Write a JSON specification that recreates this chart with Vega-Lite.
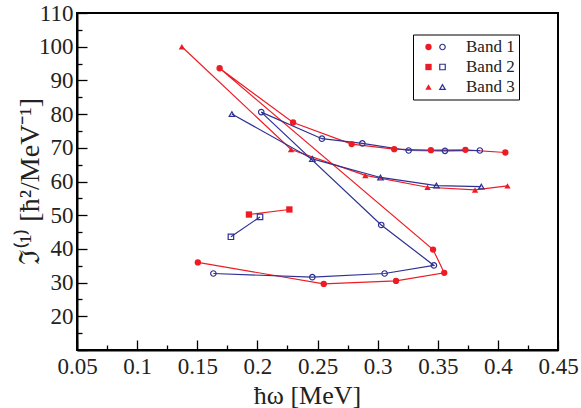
{
  "$schema": "https://vega.github.io/schema/vega-lite/v6.json",
  "width": 481,
  "height": 337,
  "autosize": {"type": "none"},
  "padding": {"left": 77, "top": 13, "right": 23, "bottom": 58},
  "background": "white",
  "config": {
    "view": {"stroke": "black", "strokeWidth": 2},
    "axis": {
      "grid": false,
      "domainColor": "black",
      "domainWidth": 2,
      "tickColor": "black",
      "tickWidth": 1.3,
      "labelFont": "Liberation Serif",
      "labelFontSize": 23,
      "labelColor": "#222",
      "titleFont": "Liberation Serif",
      "titleFontWeight": "normal",
      "titleColor": "#222"
    }
  },
  "data": {
    "values": [
      {"band": "Band 1", "type": "filled", "i": 1, "x": 0.1505, "y": 36.0},
      {"band": "Band 1", "type": "filled", "i": 2, "x": 0.2552, "y": 29.6},
      {"band": "Band 1", "type": "filled", "i": 3, "x": 0.3153, "y": 30.5},
      {"band": "Band 1", "type": "filled", "i": 4, "x": 0.3554, "y": 32.9},
      {"band": "Band 1", "type": "filled", "i": 5, "x": 0.3461, "y": 39.8},
      {"band": "Band 1", "type": "filled", "i": 6, "x": 0.1686, "y": 93.6},
      {"band": "Band 1", "type": "filled", "i": 7, "x": 0.2297, "y": 77.5},
      {"band": "Band 1", "type": "filled", "i": 8, "x": 0.2784, "y": 71.1},
      {"band": "Band 1", "type": "filled", "i": 9, "x": 0.3138, "y": 69.6},
      {"band": "Band 1", "type": "filled", "i": 10, "x": 0.3443, "y": 69.3},
      {"band": "Band 1", "type": "filled", "i": 11, "x": 0.3730, "y": 69.4},
      {"band": "Band 1", "type": "filled", "i": 12, "x": 0.4062, "y": 68.6},
      {"band": "Band 1", "type": "open", "i": 1, "x": 0.1634, "y": 32.7},
      {"band": "Band 1", "type": "open", "i": 2, "x": 0.2457, "y": 31.6},
      {"band": "Band 1", "type": "open", "i": 3, "x": 0.3058, "y": 32.7},
      {"band": "Band 1", "type": "open", "i": 4, "x": 0.3468, "y": 35.1},
      {"band": "Band 1", "type": "open", "i": 5, "x": 0.3030, "y": 47.1},
      {"band": "Band 1", "type": "open", "i": 6, "x": 0.2032, "y": 80.6},
      {"band": "Band 1", "type": "open", "i": 7, "x": 0.2537, "y": 72.7},
      {"band": "Band 1", "type": "open", "i": 8, "x": 0.2873, "y": 71.3},
      {"band": "Band 1", "type": "open", "i": 9, "x": 0.3258, "y": 69.2},
      {"band": "Band 1", "type": "open", "i": 10, "x": 0.3560, "y": 69.1},
      {"band": "Band 1", "type": "open", "i": 11, "x": 0.3850, "y": 69.2},
      {"band": "Band 2", "type": "filled", "i": 1, "x": 0.1930, "y": 50.2},
      {"band": "Band 2", "type": "filled", "i": 2, "x": 0.2266, "y": 51.7},
      {"band": "Band 2", "type": "open", "i": 1, "x": 0.1780, "y": 43.6},
      {"band": "Band 2", "type": "open", "i": 2, "x": 0.2022, "y": 49.5},
      {"band": "Band 3", "type": "filled", "i": 1, "x": 0.1372, "y": 100.0},
      {"band": "Band 3", "type": "filled", "i": 2, "x": 0.2280, "y": 69.5},
      {"band": "Band 3", "type": "filled", "i": 3, "x": 0.2898, "y": 61.8},
      {"band": "Band 3", "type": "filled", "i": 4, "x": 0.3415, "y": 58.3},
      {"band": "Band 3", "type": "filled", "i": 5, "x": 0.3810, "y": 57.5},
      {"band": "Band 3", "type": "filled", "i": 6, "x": 0.4080, "y": 58.7},
      {"band": "Band 3", "type": "open", "i": 1, "x": 0.1788, "y": 80.0},
      {"band": "Band 3", "type": "open", "i": 2, "x": 0.2457, "y": 66.7},
      {"band": "Band 3", "type": "open", "i": 3, "x": 0.3024, "y": 61.2},
      {"band": "Band 3", "type": "open", "i": 4, "x": 0.3489, "y": 58.8},
      {"band": "Band 3", "type": "open", "i": 5, "x": 0.3862, "y": 58.5}
    ]
  },
  "encoding": {
    "x": {
      "field": "x",
      "type": "quantitative",
      "scale": {"domain": [0.05, 0.45], "nice": false, "zero": false},
      "axis": {
        "title": "ħω [MeV]",
        "titleFontSize": 26,
        "titleX": 230,
        "titleY": 53,
        "titleAlign": "center",
        "titleBaseline": "alphabetic",
        "values": [0.05, 0.075, 0.1, 0.125, 0.15, 0.175, 0.2, 0.225, 0.25, 0.275, 0.3, 0.325, 0.35, 0.375, 0.4, 0.425, 0.45],
        "labelExpr": "round(datum.value*1000) % 50 == 0 ? '' + datum.value : ''",
        "tickSize": {"condition": {"test": "round(datum.value*1000) % 50 == 0", "value": -10}, "value": -5},
        "labelPadding": 15,
        "labelFlush": false,
        "labelOverlap": false
      }
    },
    "y": {
      "field": "y",
      "type": "quantitative",
      "scale": {"domain": [10, 110], "nice": false, "zero": false},
      "axis": {
        "title": "ℑ⁽¹⁾    [ħ²/MeV⁻¹]",
        "titleFontSize": 28,
        "titleX": -39,
        "titleY": 168,
        "titleAngle": -90,
        "titleBaseline": "alphabetic",
        "titleAlign": "center",
        "values": [10, 15, 20, 25, 30, 35, 40, 45, 50, 55, 60, 65, 70, 75, 80, 85, 90, 95, 100, 105, 110],
        "labelExpr": "datum.value % 10 == 0 && datum.value >= 20 ? '' + datum.value : ''",
        "tickSize": {"condition": {"test": "datum.value % 10 == 0", "value": -10}, "value": -5},
        "labelPadding": 14,
        "labelFlush": false,
        "labelOverlap": false
      }
    }
  },
  "layer": [
    {
      "mark": {"type": "line", "strokeWidth": 1.2},
      "encoding": {
        "color": {"field": "type", "type": "nominal", "scale": {"domain": ["filled", "open"], "range": ["#ed1c24", "#2e3192"]}, "legend": null},
        "detail": {"field": "band"},
        "order": {"field": "i", "type": "quantitative"}
      }
    },
    {
      "transform": [{"filter": "datum.type == 'filled'"}],
      "mark": {"type": "point", "filled": true, "color": "#ed1c24", "size": 40, "opacity": 1},
      "encoding": {
        "shape": {
          "field": "band",
          "type": "nominal",
          "scale": {"domain": ["Band 1", "Band 2", "Band 3"], "range": ["circle", "square", "triangle-up"]},
          "legend": {
            "orient": "none",
            "legendX": 343,
            "legendY": 25.5,
            "title": null,
            "padding": 0,
            "symbolSize": 40,
            "labelFont": "Liberation Serif",
            "labelFontSize": 17,
            "labelExpr": "''",
            "rowPadding": 2
          }
        }
      }
    },
    {
      "transform": [{"filter": "datum.type == 'open'"}],
      "mark": {"type": "point", "filled": false, "color": "#2e3192", "size": 30, "strokeWidth": 1.2, "opacity": 1},
      "encoding": {
        "shape": {
          "field": "band",
          "type": "nominal",
          "scale": {"domain": ["Band 1", "Band 2", "Band 3"], "range": ["circle", "square", "triangle-up"]},
          "legend": {
            "orient": "none",
            "legendX": 336,
            "legendY": 21.5,
            "title": null,
            "padding": 4,
            "strokeColor": "black",
            "symbolOffset": 17,
            "symbolSize": 30,
            "symbolStrokeWidth": 1.2,
            "labelFont": "Liberation Serif",
            "labelFontSize": 17,
            "labelColor": "#222",
            "labelOffset": 15,
            "rowPadding": 2
          }
        }
      }
    }
  ],
  "resolve": {"scale": {"shape": "independent"}, "legend": {"shape": "independent"}}
}
